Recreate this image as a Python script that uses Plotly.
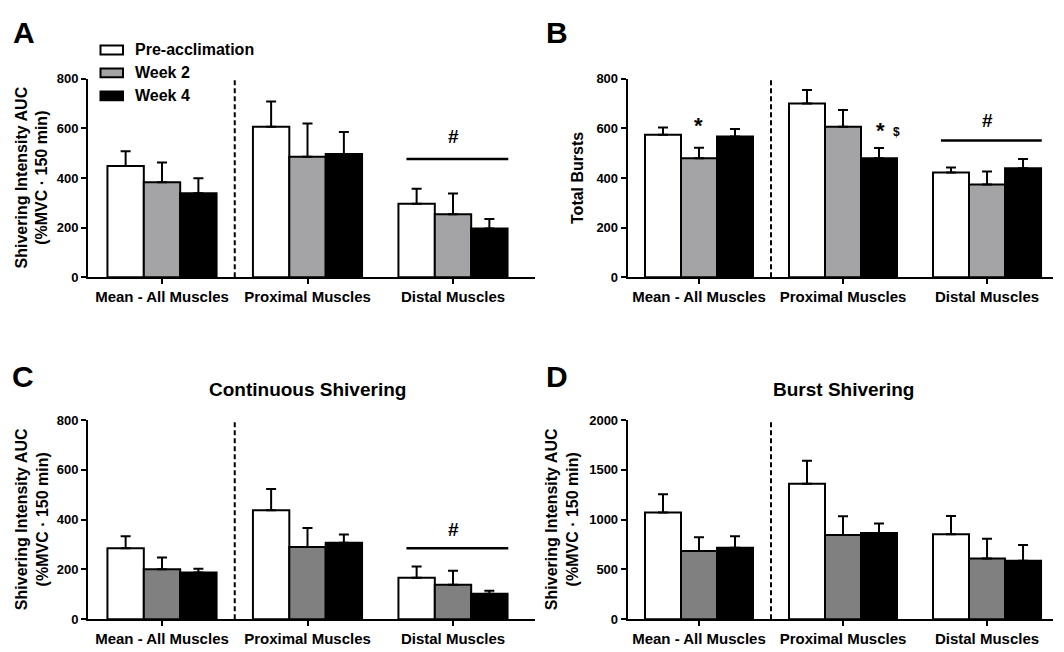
import plotly.graph_objects as go

# ---------------- data ----------------
categories = ["Mean - All Muscles", "Proximal Muscles", "Distal Muscles"]
groups = ["Pre-acclimation", "Week 2", "Week 4"]

# Panel A: Shivering intensity AUC (total)
A_pre = [448, 606, 296]
A_pre_err = [60, 102, 61]
A_w2 = [383, 485, 254]
A_w2_err = [79, 134, 83]
A_w4 = [338, 496, 197]
A_w4_err = [61, 89, 38]

# Panel B: Total bursts
B_pre = [574, 700, 422]
B_pre_err = [29, 54, 20]
B_w2 = [479, 606, 374]
B_w2_err = [43, 68, 52]
B_w4 = [567, 479, 439]
B_w4_err = [30, 42, 37]

# Panel C: Continuous shivering
C_pre = [285, 438, 167]
C_pre_err = [48, 85, 45]
C_w2 = [201, 290, 139]
C_w2_err = [47, 76, 56]
C_w4 = [188, 307, 103]
C_w4_err = [15, 33, 12]

# Panel D: Burst shivering
D_pre = [1072, 1359, 853]
D_pre_err = [183, 233, 183]
D_w2 = [686, 846, 611]
D_w2_err = [138, 187, 196]
D_w4 = [719, 866, 588]
D_w4_err = [114, 95, 157]

# significance lines (#) level and label level
A_hash_line = 476
A_hash_text = 566
B_hash_line = 551
B_hash_text = 630
C_hash_line = 285
C_hash_text = 362

W, H = 1064, 652
FONT = "Liberation Sans, Arial, sans-serif"


def px(x):
    return x / W


def py(y):
    return 1 - y / H


fig = go.Figure()

panels = [
    dict(key="1", pre=(A_pre, A_pre_err), w2=(A_w2, A_w2_err), w4=(A_w4, A_w4_err),
         gray="#a4a4a7", dash_top=826),
    dict(key="2", pre=(B_pre, B_pre_err), w2=(B_w2, B_w2_err), w4=(B_w4, B_w4_err),
         gray="#a4a4a7", dash_top=826),
    dict(key="3", pre=(C_pre, C_pre_err), w2=(C_w2, C_w2_err), w4=(C_w4, C_w4_err),
         gray="#808080", dash_top=823),
    dict(key="4", pre=(D_pre, D_pre_err), w2=(D_w2, D_w2_err), w4=(D_w4, D_w4_err),
         gray="#808080", dash_top=2058),
]

xpos = [0, 1, 2]

for p in panels:
    k = p["key"]
    xa = "x" if k == "1" else "x" + k
    ya = "y" if k == "1" else "y" + k
    for name, (vals, errs), color in [
        (groups[0], p["pre"], "#ffffff"),
        (groups[1], p["w2"], p["gray"]),
        (groups[2], p["w4"], "#000000"),
    ]:
        fig.add_trace(go.Bar(
            x=xpos, y=vals, name=name, xaxis=xa, yaxis=ya, showlegend=False,
            marker=dict(color=color, line=dict(color="black", width=2)),
            error_y=dict(type="data", array=errs, arrayminus=[0] * len(errs),
                         symmetric=False, color="black", thickness=2, width=5),
        ))
    # dashed divider
    fig.add_trace(go.Scatter(
        x=[0.5, 0.5], y=[0, p["dash_top"]], mode="lines", xaxis=xa, yaxis=ya,
        line=dict(color="black", width=2, dash="5px,3px"), showlegend=False,
        cliponaxis=False, hoverinfo="skip",
    ))

# significance lines
for k, lvl in [("1", A_hash_line), ("2", B_hash_line), ("3", C_hash_line)]:
    xa = "x" if k == "1" else "x" + k
    ya = "y" if k == "1" else "y" + k
    fig.add_trace(go.Scatter(
        x=[1.68, 2.38], y=[lvl, lvl], mode="lines", xaxis=xa, yaxis=ya,
        line=dict(color="black", width=2.5), showlegend=False, cliponaxis=False,
        hoverinfo="skip",
    ))

annotations = []


def ann(text, x, y, xref, yref, size, **kw):
    d = dict(text=text, x=x, y=y, xref=xref, yref=yref, showarrow=False,
             xanchor="center", yanchor="middle",
             font=dict(family=FONT, size=size, color="black", weight="bold"))
    d.update(kw)
    annotations.append(d)


ann("#", 2, A_hash_text, "x", "y", 19)
ann("#", 2, B_hash_text, "x2", "y2", 19)
ann("#", 2, C_hash_text, "x3", "y3", 19)
ann("*", 0, 612, "x2", "y2", 22)
ann("*", 1.262, 592, "x2", "y2", 22)
ann("$", 1.368, 585, "x2", "y2", 12)

# panel letters
ann("A", px(23.5), py(26), "paper", "paper", 30)
ann("B", px(557), py(26), "paper", "paper", 30)
ann("C", px(23), py(378), "paper", "paper", 30)
ann("D", px(557), py(378), "paper", "paper", 30)

# panel titles
ann("Continuous Shivering", 1, py(391.7), "x3", "paper", 19)
ann("Burst Shivering", 1, py(391.7), "x4", "paper", 19)

# y-axis titles
ytitle = "Shivering Intensity AUC<br>(%MVC · 150 min)"
ann(ytitle, px(31.5), py(175), "paper", "paper", 16, textangle=-90)
ann("Total Bursts", px(578), py(175), "paper", "paper", 16, textangle=-90)
ann(ytitle, px(31.5), py(524.7), "paper", "paper", 16, textangle=-90)
ann(ytitle, px(561.5), py(524.7), "paper", "paper", 16, textangle=-90)

# legend (panel A)
shapes = []
leg_y = [44, 67.5, 91]
leg_col = ["#ffffff", "#a4a4a7", "#000000"]
for name, yc, col in zip(groups, leg_y, leg_col):
    shapes.append(dict(type="rect", xref="paper", yref="paper",
                       x0=px(100.5), x1=px(123), y0=py(yc - 4.5), y1=py(yc + 4.5),
                       fillcolor=col, line=dict(color="black", width=2)))
    ann(name, px(133), py(yc), "paper", "paper", 16, xanchor="left")

# axes
xdom_left = [px(88), px(535)]
xdom_right = [px(627.7), px(1053)]
ydom_top = [py(276.7), py(73.3)]
ydom_bot = [py(626.7), py(422.7)]
xr_left = [-0.5086, 2.5636]
xr_right = [-0.495, 2.458]

common_x = dict(tickvals=xpos, ticktext=categories, showline=True, linecolor="black",
                linewidth=2, ticks="outside", ticklen=5, tickwidth=2, tickcolor="black",
                showgrid=False, zeroline=False, fixedrange=True,
                tickfont=dict(family=FONT, size=15, color="black", weight="bold"))
common_y = dict(showline=True, linecolor="black", linewidth=2, ticks="outside",
                ticklen=5, tickwidth=2, tickcolor="black", showgrid=False,
                zeroline=False, fixedrange=True,
                tickfont=dict(family=FONT, size=13, color="black", weight="bold"))

layout = dict(
    width=W, height=H, margin=dict(l=0, r=0, t=0, b=0),
    paper_bgcolor="white", plot_bgcolor="white",
    barmode="group", bargap=0.25, bargroupgap=0,
    showlegend=False,
    annotations=annotations, shapes=shapes,
    font=dict(family=FONT, color="black"),
    xaxis=dict(common_x, domain=xdom_left, range=xr_left, anchor="y"),
    yaxis=dict(common_y, domain=ydom_top, range=[0, 800], dtick=200, anchor="x"),
    xaxis2=dict(common_x, domain=xdom_right, range=xr_right, anchor="y2"),
    yaxis2=dict(common_y, domain=ydom_top, range=[0, 800], dtick=200, anchor="x2"),
    xaxis3=dict(common_x, domain=xdom_left, range=xr_left, anchor="y3"),
    yaxis3=dict(common_y, domain=ydom_bot, range=[0, 800], dtick=200, anchor="x3"),
    xaxis4=dict(common_x, domain=xdom_right, range=xr_right, anchor="y4"),
    yaxis4=dict(common_y, domain=ydom_bot, range=[0, 2000], dtick=500, anchor="x4"),
)
fig.update_layout(layout)

fig.write_html("out.html")
